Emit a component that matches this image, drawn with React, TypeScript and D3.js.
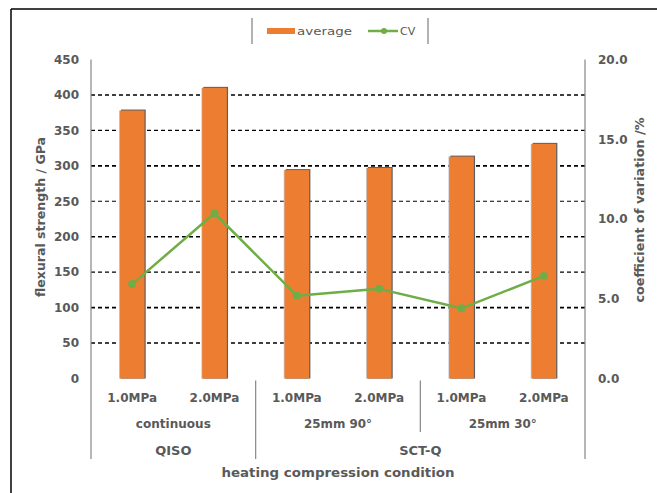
import React from "react";
import * as d3 from "d3";

const categories = ["1.0MPa", "2.0MPa", "1.0MPa", "2.0MPa", "1.0MPa", "2.0MPa"];
const averageValues = [378, 410, 294, 297, 313, 331];
const cvValues = [5.92, 10.36, 5.19, 5.62, 4.4, 6.43];
const subGroups = [
  { label: "continuous", start: 0, end: 2 },
  { label: "25mm 90°", start: 2, end: 4 },
  { label: "25mm 30°", start: 4, end: 6 },
];
const groups = [
  { label: "QISO", start: 0, end: 2 },
  { label: "SCT-Q", start: 2, end: 6 },
];
const leftTicks = [0, 50, 100, 150, 200, 250, 300, 350, 400, 450];
const rightTicks = [0, 5, 10, 15, 20];

const W = 657;
const H = 493;
const left = 91;
const right = 585;
const top = 59.5;
const bottom = 378.5;
const font = "'DejaVu Sans', Verdana, sans-serif";
const grey = "#595959";

export default function App() {
  const idx = categories.map((_, i) => i);
  const x = d3.scaleBand<number>().domain(idx).range([left, right]).padding(0);
  const y = d3.scaleLinear().domain([0, 450]).range([bottom, top]);
  const y2 = d3.scaleLinear().domain([0, 20]).range([bottom, top]);
  const bw = x.bandwidth() * 0.3;
  const cx = (i: number) => (x(i) as number) + x.bandwidth() / 2;
  const edge = (i: number) => (i >= categories.length ? right : (x(i) as number));

  const line = d3
    .line<number>()
    .x((_, i) => cx(i))
    .y((d) => y2(d));

  return (
    <svg
      width={W}
      height={H}
      style={{ position: "absolute", left: 0, top: 0, display: "block", background: "#fff" }}
      fontFamily={font}
    >
      <rect x={0} y={0} width={W} height={H} fill="#fff" />
      {/* frame */}
      <line x1={11} y1={9} x2={W} y2={9} stroke="#000" strokeWidth={1.5} />
      <line x1={11} y1={9} x2={11} y2={H} stroke="#000" strokeWidth={1.5} />

      {/* legend */}
      <line x1={252} y1={18} x2={252} y2={44} stroke="#7f7f7f" strokeWidth={1.2} />
      <line x1={428} y1={18} x2={428} y2={44} stroke="#7f7f7f" strokeWidth={1.2} />
      <rect x={267} y={28} width={28} height={6} fill="#ed7d31" />
      <text x={297} y={35} fontSize={11} fill={grey} textLength={55} lengthAdjust="spacingAndGlyphs">
        average
      </text>
      <line x1={368} y1={31} x2={398} y2={31} stroke="#70ad47" strokeWidth={2.5} />
      <circle cx={384} cy={31} r={3} fill="#70ad47" />
      <text x={400} y={35} fontSize={11} fill={grey}>
        CV
      </text>

      {/* gridlines */}
      {leftTicks
        .filter((t) => t > 0 && t < 450)
        .map((t) => (
          <line
            key={"g" + t}
            x1={left}
            x2={right}
            y1={y(t)}
            y2={y(t)}
            stroke="#000"
            strokeWidth={t % 100 === 0 || t === 50 ? 1.6 : 1.1}
            strokeDasharray="4,3"
          />
        ))}

      {/* bars */}
      {averageValues.map((v, i) => {
        const bx = cx(i) - bw / 2;
        return (
          <g key={"b" + i}>
            <rect x={bx - 0.8} y={y(v)} width={bw + 0.8} height={bottom - y(v)} fill="#c9ccd1" />
            <rect x={bx + 1.2} y={y(v) - 1} width={bw} height={bottom - y(v) + 1} fill="#5f5f5f" />
            <rect x={bx} y={y(v)} width={bw} height={bottom - y(v)} fill="#ed7d31" />
          </g>
        );
      })}

      {/* CV line */}
      <path d={line(cvValues) || ""} fill="none" stroke="#70ad47" strokeWidth={2.5} strokeLinejoin="round" />
      {cvValues.map((v, i) => (
        <circle key={"c" + i} cx={cx(i)} cy={y2(v)} r={4} fill="#70ad47" />
      ))}

      {/* axes */}
      <line x1={left} x2={left} y1={top} y2={459} stroke="#868686" strokeWidth={1.2} />
      <line x1={right} x2={right} y1={top} y2={459} stroke="#868686" strokeWidth={1.2} />
      <line x1={edge(2)} x2={edge(2)} y1={bottom + 2} y2={459} stroke="#868686" strokeWidth={1.2} />
      <line x1={edge(4)} x2={edge(4)} y1={bottom + 2} y2={432} stroke="#868686" strokeWidth={1.2} />

      {leftTicks.map((t) => (
        <text
          key={"l" + t}
          x={79}
          y={y(t)}
          dy="0.36em"
          textAnchor="end"
          fontSize={12}
          fontWeight="bold"
          fill={grey}
        >
          {t}
        </text>
      ))}
      {rightTicks.map((t) => (
        <text
          key={"r" + t}
          x={598}
          y={y2(t)}
          dy="0.36em"
          fontSize={12}
          fontWeight="bold"
          fill={grey}
        >
          {d3.format(".1f")(t)}
        </text>
      ))}

      {categories.map((c, i) => (
        <text
          key={"x" + i}
          x={cx(i)}
          y={402}
          textAnchor="middle"
          fontSize={12}
          fontWeight="bold"
          fill={grey}
        >
          {c}
        </text>
      ))}
      {subGroups.map((g) => (
        <text
          key={"s" + g.label}
          x={(edge(g.start) + edge(g.end)) / 2}
          y={428}
          textAnchor="middle"
          fontSize={12}
          fontWeight="bold"
          fill={grey}
          textLength={g.label === "continuous" ? 75 : 68}
          lengthAdjust="spacingAndGlyphs"
        >
          {g.label}
        </text>
      ))}
      {groups.map((g) => (
        <text
          key={"G" + g.label}
          x={(edge(g.start) + edge(g.end)) / 2}
          y={455}
          textAnchor="middle"
          fontSize={13}
          fontWeight="bold"
          fill={grey}
        >
          {g.label}
        </text>
      ))}
      <text
        x={338}
        y={477}
        textAnchor="middle"
        fontSize={13}
        fontWeight="bold"
        fill={grey}
        textLength={233}
        lengthAdjust="spacingAndGlyphs"
      >
        heating compression condition
      </text>

      {/* axis titles */}
      <text
        transform="translate(45,217) rotate(-90)"
        textAnchor="middle"
        fontSize={13}
        fontWeight="bold"
        fill={grey}
        textLength={160}
        lengthAdjust="spacingAndGlyphs"
      >
        flexural strength / GPa
      </text>
      <text
        transform="translate(644,210) rotate(-90)"
        textAnchor="middle"
        fontSize={13}
        fontWeight="bold"
        fill={grey}
        textLength={185}
        lengthAdjust="spacingAndGlyphs"
      >
        coefficient of variation /%
      </text>
    </svg>
  );
}
